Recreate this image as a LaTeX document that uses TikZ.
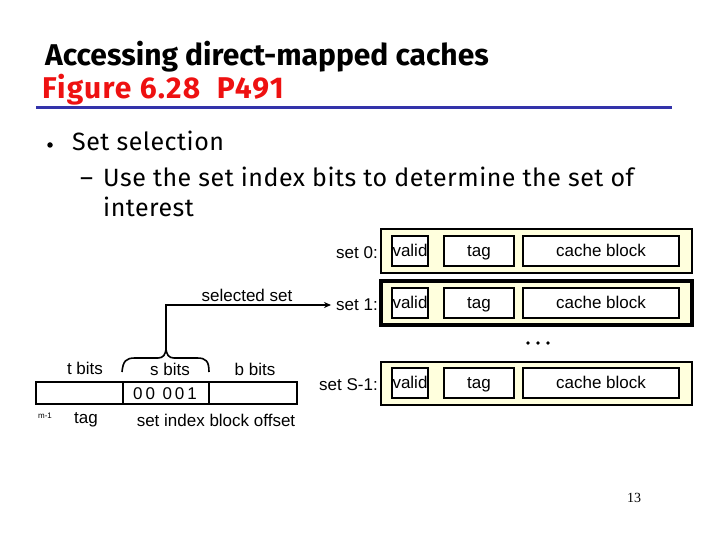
\documentclass[tikz,border=0pt]{standalone}
\usepackage{fontspec}
\setmainfont{Liberation Sans}
\newfontfamily\titlefont{Fira Sans}
\newfontfamily\serifnum{Liberation Serif}
\usetikzlibrary{arrows.meta}
\definecolor{setfill}{HTML}{FFFFDD}
\definecolor{rulecol}{HTML}{3333AA}
\definecolor{titlered}{HTML}{EE1111}
\tikzset{
  x=1pt, y=-1pt,
  lbl/.style={inner sep=0pt, font=\fontsize{17}{19}\selectfont},
  setbox/.style={draw=black, line width=1.3pt, fill=setfill},
  cell/.style={draw=black, line width=1.3pt, fill=white, inner sep=0pt, text height=12pt, text depth=1pt, font=\fontsize{17}{19}\selectfont},
  bodytxt/.style={inner sep=0pt, anchor=base west, font=\titlefont\addfontfeature{LetterSpace=2}\fontsize{25}{28}\selectfont},
  titletxt/.style={inner sep=0pt, anchor=base west, font=\titlefont\bfseries\fontsize{30}{33}\selectfont},
}
\begin{document}
\begin{tikzpicture}
\useasboundingbox (0,0) rectangle (720,540);
% title
\node[titletxt] (title) at (45,66) {Accessing direct-mapped caches};
\node[titletxt, text=titlered] (fig) at (42,99) {\addfontfeature{LetterSpace=4}Figure 6.28\ \ P491};
\draw[rulecol, line width=3pt] (36,108) -- (672,108);
% bullets
\node[circle, fill=black, inner sep=0pt, minimum size=5.5pt] (b1) at (50,145) {};
\node[bodytxt] (t1) at (72,151) {Set selection};
\node[bodytxt] (d1) at (80,187) {–};
\node[bodytxt] (t2) at (103,187) {Use the set index bits to determine the set of};
\node[bodytxt] (t3) at (103,216) {interest};
% sets
\foreach \nm/\yt/\yb/\lw in {s0/229/273/1.3pt, s1/281/325/3.5pt, sn/362/405/1.3pt}{
  \draw[setbox, line width=\lw] (381,\yt) rectangle (692,\yb);
}
\foreach \nm/\yt/\yb in {s0/236/266, s1/288/318, sn/368/398}{
  \node[cell, minimum width=36pt, minimum height=30pt] (\nm v) at (410,{(\yt+\yb)/2}) {valid};
  \node[cell, minimum width=70pt, minimum height=30pt] (\nm t) at (479,{(\yt+\yb)/2}) {tag};
  \node[cell, minimum width=156pt, minimum height=30pt] (\nm c) at (601,{(\yt+\yb)/2}) {cache block};
}
\node[lbl, anchor=east] (l0) at (378,253) {set 0:};
\node[lbl, anchor=east] (l1) at (378,305) {set 1:};
\node[lbl, anchor=east] (ln) at (378,385) {set S-1:};
\foreach \xx in {528,538,548} \fill (\xx,343) circle (1.8pt);
% address
\draw[line width=1.3pt] (36,382) rectangle (297,404);
\draw[line width=1.3pt] (123,382) -- (123,404);
\draw[line width=1.3pt] (209,382) -- (209,404);
\node[lbl] (bits) at (165,394) {\addfontfeature{LetterSpace=17}00 001};
\node[lbl] (tb) at (85,368) {t bits};
\node[lbl] (sb) at (170,369) {s bits};
\node[lbl] (bb) at (255,369) {b bits};
\node[inner sep=0pt, font=\fontsize{8}{9}\selectfont] (m1) at (45,416) {m-1};
\node[lbl] (tagl) at (86,420) {tag};
\node[lbl] (sil) at (216,420) {set index block offset};
\node[lbl] (sel) at (247,295) {selected set};
% brace
\draw[line width=1.6pt] (122,372) .. controls (123,361) and (126,358) .. (135,358) -- (158,358) .. controls (163,358) and (166,355) .. (166,347) coordinate (tip) .. controls (166,355) and (169,358) .. (174,358) -- (197,358) .. controls (206,358) and (209,361) .. (209,372);
\draw[line width=1.6pt, -{Stealth[length=7pt,width=6pt]}] (tip) |- ([xshift=-5pt]l1.west);
% page number
\node[inner sep=0pt, font=\serifnum\fontsize{14}{16}\selectfont] (pg) at (634,498) {13};
\end{tikzpicture}
\end{document}
